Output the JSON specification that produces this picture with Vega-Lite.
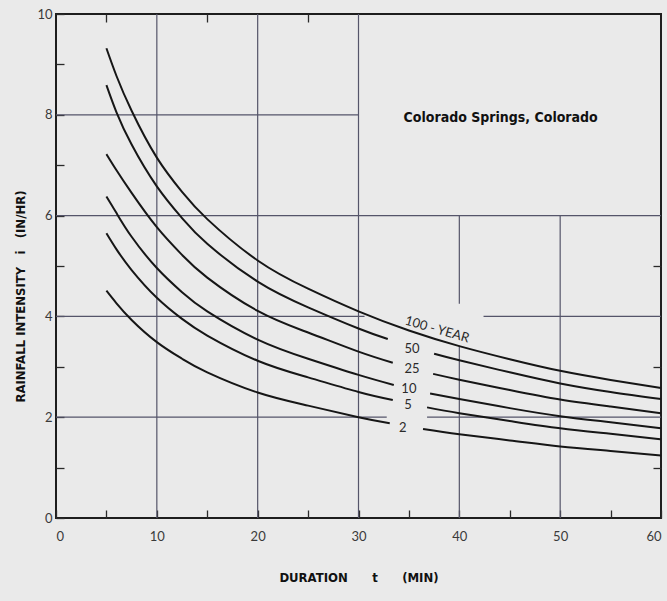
{
  "$schema": "https://vega.github.io/schema/vega-lite/v6.json",
  "width": 605,
  "height": 504,
  "autosize": {"type": "none"},
  "padding": {"left": 56, "top": 14, "right": 6, "bottom": 83},
  "background": "#eaeaea",
  "config": {
    "view": {"stroke": "#1e1e1e", "strokeWidth": 2},
    "axis": {"domain": false, "grid": false, "labelFont": "Lato", "labelFontSize": 13, "labelColor": "#3a3a3a", "tickColor": "#2a2a2a", "tickWidth": 1.3, "tickSize": -8}
  },
  "datasets": {
    "curves": [
      {"rp": "100", "seg": "a", "t": 5, "i": 9.32},
      {"rp": "100", "seg": "a", "t": 6, "i": 8.77},
      {"rp": "100", "seg": "a", "t": 7.5, "i": 8.08},
      {"rp": "100", "seg": "a", "t": 10, "i": 7.15},
      {"rp": "100", "seg": "a", "t": 12.5, "i": 6.47},
      {"rp": "100", "seg": "a", "t": 15, "i": 5.93},
      {"rp": "100", "seg": "a", "t": 20, "i": 5.11},
      {"rp": "100", "seg": "a", "t": 25, "i": 4.55},
      {"rp": "100", "seg": "a", "t": 30, "i": 4.10},
      {"rp": "100", "seg": "a", "t": 35, "i": 3.72},
      {"rp": "100", "seg": "a", "t": 40, "i": 3.41},
      {"rp": "100", "seg": "a", "t": 45, "i": 3.15},
      {"rp": "100", "seg": "a", "t": 50, "i": 2.92},
      {"rp": "100", "seg": "a", "t": 55, "i": 2.74},
      {"rp": "100", "seg": "a", "t": 60, "i": 2.58},

      {"rp": "50", "seg": "a", "t": 5, "i": 8.59},
      {"rp": "50", "seg": "a", "t": 6, "i": 8.05},
      {"rp": "50", "seg": "a", "t": 7.5, "i": 7.41},
      {"rp": "50", "seg": "a", "t": 10, "i": 6.58},
      {"rp": "50", "seg": "a", "t": 12.5, "i": 5.95},
      {"rp": "50", "seg": "a", "t": 15, "i": 5.44},
      {"rp": "50", "seg": "a", "t": 20, "i": 4.69},
      {"rp": "50", "seg": "a", "t": 25, "i": 4.18},
      {"rp": "50", "seg": "a", "t": 30, "i": 3.76},
      {"rp": "50", "seg": "a", "t": 32.9, "i": 3.55},
      {"rp": "50", "seg": "b", "t": 37.5, "i": 3.26},
      {"rp": "50", "seg": "b", "t": 40, "i": 3.13},
      {"rp": "50", "seg": "b", "t": 45, "i": 2.89},
      {"rp": "50", "seg": "b", "t": 50, "i": 2.67},
      {"rp": "50", "seg": "b", "t": 55, "i": 2.50},
      {"rp": "50", "seg": "b", "t": 60, "i": 2.36},

      {"rp": "25", "seg": "a", "t": 5, "i": 7.22},
      {"rp": "25", "seg": "a", "t": 6, "i": 6.90},
      {"rp": "25", "seg": "a", "t": 7.5, "i": 6.45},
      {"rp": "25", "seg": "a", "t": 10, "i": 5.77},
      {"rp": "25", "seg": "a", "t": 12.5, "i": 5.22},
      {"rp": "25", "seg": "a", "t": 15, "i": 4.77},
      {"rp": "25", "seg": "a", "t": 20, "i": 4.11},
      {"rp": "25", "seg": "a", "t": 25, "i": 3.68},
      {"rp": "25", "seg": "a", "t": 30, "i": 3.30},
      {"rp": "25", "seg": "a", "t": 33.4, "i": 3.08},
      {"rp": "25", "seg": "b", "t": 37.4, "i": 2.86},
      {"rp": "25", "seg": "b", "t": 40, "i": 2.745},
      {"rp": "25", "seg": "b", "t": 45, "i": 2.54},
      {"rp": "25", "seg": "b", "t": 50, "i": 2.35},
      {"rp": "25", "seg": "b", "t": 55, "i": 2.21},
      {"rp": "25", "seg": "b", "t": 60, "i": 2.08},

      {"rp": "10", "seg": "a", "t": 5, "i": 6.38},
      {"rp": "10", "seg": "a", "t": 6, "i": 6.05},
      {"rp": "10", "seg": "a", "t": 7.5, "i": 5.58},
      {"rp": "10", "seg": "a", "t": 10, "i": 4.96},
      {"rp": "10", "seg": "a", "t": 12.5, "i": 4.48},
      {"rp": "10", "seg": "a", "t": 15, "i": 4.10},
      {"rp": "10", "seg": "a", "t": 20, "i": 3.54},
      {"rp": "10", "seg": "a", "t": 25, "i": 3.16},
      {"rp": "10", "seg": "a", "t": 30, "i": 2.84},
      {"rp": "10", "seg": "a", "t": 33.5, "i": 2.64},
      {"rp": "10", "seg": "b", "t": 37.1, "i": 2.47},
      {"rp": "10", "seg": "b", "t": 40, "i": 2.36},
      {"rp": "10", "seg": "b", "t": 45, "i": 2.18},
      {"rp": "10", "seg": "b", "t": 50, "i": 2.02},
      {"rp": "10", "seg": "b", "t": 55, "i": 1.90},
      {"rp": "10", "seg": "b", "t": 60, "i": 1.78},

      {"rp": "5", "seg": "a", "t": 5, "i": 5.65},
      {"rp": "5", "seg": "a", "t": 6, "i": 5.33},
      {"rp": "5", "seg": "a", "t": 7.5, "i": 4.92},
      {"rp": "5", "seg": "a", "t": 10, "i": 4.37},
      {"rp": "5", "seg": "a", "t": 12.5, "i": 3.95},
      {"rp": "5", "seg": "a", "t": 15, "i": 3.62},
      {"rp": "5", "seg": "a", "t": 20, "i": 3.12},
      {"rp": "5", "seg": "a", "t": 25, "i": 2.79},
      {"rp": "5", "seg": "a", "t": 30, "i": 2.50},
      {"rp": "5", "seg": "a", "t": 33.4, "i": 2.34},
      {"rp": "5", "seg": "b", "t": 36.8, "i": 2.195},
      {"rp": "5", "seg": "b", "t": 40, "i": 2.08},
      {"rp": "5", "seg": "b", "t": 45, "i": 1.925},
      {"rp": "5", "seg": "b", "t": 50, "i": 1.78},
      {"rp": "5", "seg": "b", "t": 55, "i": 1.67},
      {"rp": "5", "seg": "b", "t": 60, "i": 1.56},

      {"rp": "2", "seg": "a", "t": 5, "i": 4.51},
      {"rp": "2", "seg": "a", "t": 6, "i": 4.26},
      {"rp": "2", "seg": "a", "t": 7.5, "i": 3.93},
      {"rp": "2", "seg": "a", "t": 10, "i": 3.49},
      {"rp": "2", "seg": "a", "t": 12.5, "i": 3.16},
      {"rp": "2", "seg": "a", "t": 15, "i": 2.89},
      {"rp": "2", "seg": "a", "t": 20, "i": 2.49},
      {"rp": "2", "seg": "a", "t": 25, "i": 2.23},
      {"rp": "2", "seg": "a", "t": 30, "i": 2.00},
      {"rp": "2", "seg": "a", "t": 33.1, "i": 1.88},
      {"rp": "2", "seg": "b", "t": 36.4, "i": 1.765},
      {"rp": "2", "seg": "b", "t": 40, "i": 1.66},
      {"rp": "2", "seg": "b", "t": 45, "i": 1.54},
      {"rp": "2", "seg": "b", "t": 50, "i": 1.42},
      {"rp": "2", "seg": "b", "t": 55, "i": 1.33},
      {"rp": "2", "seg": "b", "t": 60, "i": 1.24}
    ],
    "gridV": [
      {"t": 10, "a": 0, "b": 10},
      {"t": 20, "a": 0, "b": 10},
      {"t": 30, "a": 0, "b": 10},
      {"t": 40, "a": 0, "b": 3.42},
      {"t": 40, "a": 4.25, "b": 6},
      {"t": 50, "a": 0, "b": 6}
    ],
    "gridH": [
      {"i": 8, "a": 0, "b": 30},
      {"i": 6, "a": 0, "b": 60},
      {"i": 4, "a": 0, "b": 30.6},
      {"i": 4, "a": 42.4, "b": 60},
      {"i": 2, "a": 0, "b": 32.8},
      {"i": 2, "a": 36.8, "b": 60}
    ],
    "labels": [
      {"txt": "100 - YEAR", "t": 37.8, "i": 3.74, "rot": 16},
      {"txt": "50", "t": 35.3, "i": 3.35, "rot": 0},
      {"txt": "25", "t": 35.3, "i": 2.95, "rot": 0},
      {"txt": "10", "t": 35.0, "i": 2.56, "rot": 0},
      {"txt": "5", "t": 34.9, "i": 2.24, "rot": 0},
      {"txt": "2", "t": 34.4, "i": 1.79, "rot": 0}
    ],
    "place": [
      {"txt": "Colorado Springs, Colorado", "t": 44.1, "i": 7.93}
    ]
  },
  "resolve": {"axis": {"x": "independent", "y": "independent"}},
  "layer": [
    {
      "data": {"name": "gridV"},
      "mark": {"type": "rule", "color": "#55556a", "strokeWidth": 1.2},
      "encoding": {
        "x": {"field": "t", "type": "quantitative", "scale": {"domain": [0, 60], "nice": false, "zero": false},
              "axis": {"orient": "top", "values": [5, 15, 25], "labels": false, "title": null}},
        "y": {"field": "a", "type": "quantitative", "scale": {"domain": [0, 10], "nice": false, "zero": false},
              "axis": {"orient": "right", "values": [1, 3, 5], "labels": false, "title": null}},
        "y2": {"field": "b"}
      }
    },
    {
      "data": {"name": "gridH"},
      "mark": {"type": "rule", "color": "#55556a", "strokeWidth": 1.2},
      "encoding": {
        "y": {"field": "i", "type": "quantitative", "axis": null},
        "x": {"field": "a", "type": "quantitative", "axis": null},
        "x2": {"field": "b"}
      }
    },
    {
      "data": {"name": "curves"},
      "mark": {"type": "line", "color": "#161616", "strokeWidth": 2, "interpolate": "natural"},
      "encoding": {
        "x": {"field": "t", "type": "quantitative",
              "axis": {"orient": "bottom", "values": [0, 5, 10, 15, 20, 25, 30, 35, 40, 45, 50, 55, 60],
                       "labelExpr": "datum.value % 10 === 0 ? datum.label : ''", "labelPadding": 20,
                       "title": "DURATION\u00a0\u00a0\u00a0\u00a0\u00a0\u00a0t\u00a0\u00a0\u00a0\u00a0\u00a0\u00a0(MIN)",
                       "titleFont": "DejaVu Sans Condensed, Liberation Sans, sans-serif", "titleFontSize": 13, "titleFontWeight": "bold",
                       "titleColor": "#111", "titlePadding": 28}},
        "y": {"field": "i", "type": "quantitative",
              "axis": {"orient": "left", "values": [0, 1, 2, 3, 4, 5, 6, 7, 8, 9, 10],
                       "labelExpr": "datum.value % 2 === 0 ? datum.label : ''", "labelPadding": 12,
                       "labelBaseline": "middle",
                       "title": "RAINFALL INTENSITY\u00a0\u00a0\u00a0i\u00a0\u00a0\u00a0(IN/HR)",
                       "titleFont": "DejaVu Sans Condensed, Liberation Sans, sans-serif", "titleFontSize": 13, "titleFontWeight": "bold",
                       "titleColor": "#111", "titleX": -36, "titleY": 282, "titleAngle": 270,
                       "titleAlign": "center", "titleBaseline": "middle"}},
        "detail": [{"field": "rp"}, {"field": "seg"}]
      }
    },
    {
      "data": {"name": "labels"},
      "mark": {"type": "text", "font": "Lato", "fontSize": 13, "color": "#2a2a2a", "align": "center", "baseline": "middle"},
      "encoding": {
        "x": {"field": "t", "type": "quantitative", "axis": null},
        "y": {"field": "i", "type": "quantitative", "axis": null},
        "text": {"field": "txt"},
        "angle": {"field": "rot", "type": "quantitative", "scale": null}
      }
    },
    {
      "data": {"name": "place"},
      "mark": {"type": "text", "font": "DejaVu Sans Condensed, Liberation Sans, sans-serif", "fontWeight": "bold", "fontSize": 14, "color": "#111", "align": "center", "baseline": "middle"},
      "encoding": {
        "x": {"field": "t", "type": "quantitative", "axis": null},
        "y": {"field": "i", "type": "quantitative", "axis": null},
        "text": {"field": "txt"}
      }
    }
  ]
}
